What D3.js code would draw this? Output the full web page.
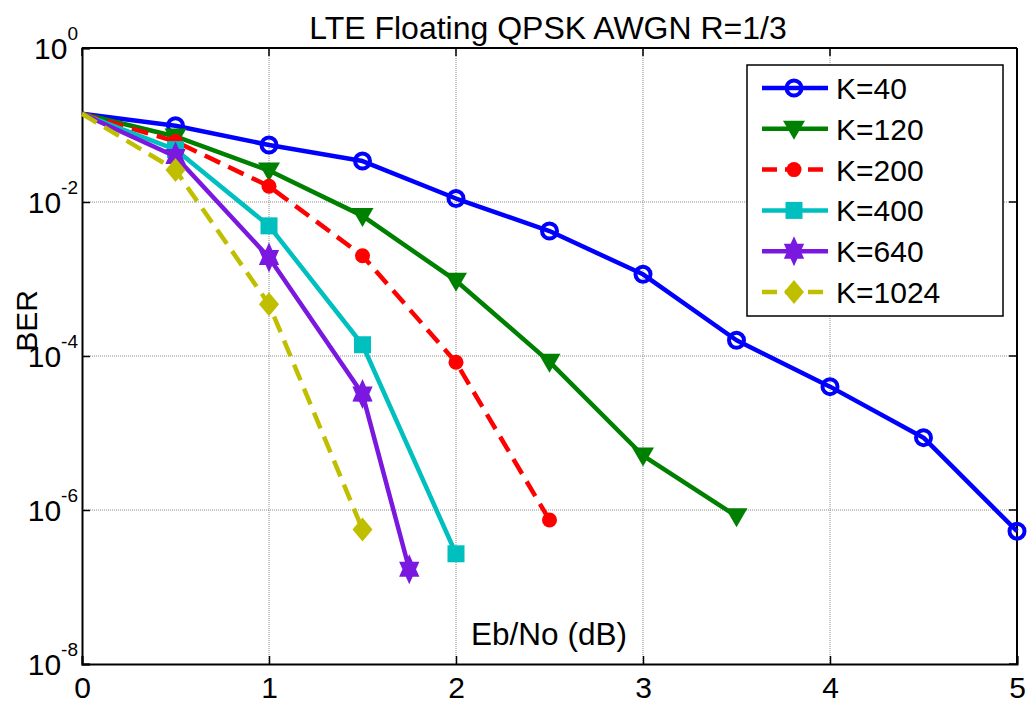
<!DOCTYPE html>
<html>
<head>
<meta charset="utf-8">
<script src="https://cdn.jsdelivr.net/npm/d3@7"></script>
<style>
  body { margin: 0; background: #fff; }
  svg { display: block; font-family: Arial, "Liberation Sans", sans-serif; }
</style>
</head>
<body>
<div id="chart"></div>
<script>
// BER curves, LTE turbo code, QPSK over AWGN
const ebno40 = [0, 0.5, 1, 1.5, 2, 2.5, 3, 3.5, 4, 4.5, 5];
const ber40 = [0.14, 0.098, 0.055, 0.034, 0.0111, 0.0042, 0.00115, 1.6e-4, 4.0e-5, 8.7e-6, 5.3e-7];
const ebno120 = [0, 0.5, 1, 1.5, 2, 2.5, 3, 3.5];
const ber120 = [0.14, 0.071, 0.0256, 0.0066, 9.5e-4, 8.4e-5, 5.1e-6, 8.3e-7];
const ebno200 = [0, 0.5, 1, 1.5, 2, 2.5];
const ber200 = [0.14, 0.061, 0.016, 2.0e-3, 8.3e-5, 7.4e-7];
const ebno400 = [0, 0.5, 1, 1.5, 2];
const ber400 = [0.14, 0.048, 4.9e-3, 1.4e-4, 2.7e-7];
const ebno640 = [0, 0.5, 1, 1.5, 1.75];
const ber640 = [0.14, 0.039, 1.9e-3, 3.2e-5, 1.7e-7];
const ebno1024 = [0, 0.5, 1, 1.5];
const ber1024 = [0.14, 0.026, 4.7e-4, 5.6e-7];

const legendLabels = ['K=40', 'K=120', 'K=200', 'K=400', 'K=640', 'K=1024'];
const xTicks = [0, 1, 2, 3, 4, 5];
const yTickExps = [0, -2, -4, -6, -8];

const series = [
  {x: ebno40, y: ber40, color: '#0000ff', dash: null, marker: 'circle'},
  {x: ebno120, y: ber120, color: '#008000', dash: null, marker: 'triangle'},
  {x: ebno200, y: ber200, color: '#ff0000', dash: '17,9', marker: 'dot'},
  {x: ebno400, y: ber400, color: '#00bfbf', dash: null, marker: 'square'},
  {x: ebno640, y: ber640, color: '#7a18e0', dash: null, marker: 'hexagram'},
  {x: ebno1024, y: ber1024, color: '#bfbf00', dash: '17,9', marker: 'diamond'}
];

const W = 1035, H = 704;
const margin = {top: 48, right: 18, bottom: 40, left: 82};

const svg = d3.select('#chart').append('svg')
  .attr('width', W).attr('height', H);

const x = d3.scaleLinear().domain([0, 5]).range([margin.left, W - margin.right]);
const y = d3.scaleLog().domain([1, 1e-8]).range([margin.top, H - margin.bottom]);

// grid
const grid = svg.append('g').attr('stroke', '#8a8a8a').attr('stroke-width', 1).attr('stroke-dasharray', '1,1');
grid.selectAll('.vg').data(xTicks.slice(1, -1)).enter().append('line')
  .attr('x1', d => x(d)).attr('x2', d => x(d))
  .attr('y1', y(1)).attr('y2', y(1e-8));
grid.selectAll('.hg').data(yTickExps.slice(1, -1)).enter().append('line')
  .attr('x1', x(0)).attr('x2', x(5))
  .attr('y1', d => y(Math.pow(10, d))).attr('y2', d => y(Math.pow(10, d)));

// axes
const xAxis = svg.append('g')
  .attr('transform', `translate(0,${y(1e-8)})`)
  .call(d3.axisBottom(x).tickValues(xTicks).tickSize(-8).tickPadding(12).tickFormat(d3.format('d')));
const yAxis = svg.append('g')
  .attr('transform', `translate(${x(0)},0)`)
  .call(d3.axisLeft(y).tickValues(yTickExps.map(e => Math.pow(10, e))).tickSize(-8).tickFormat(''));
[xAxis, yAxis].forEach(a => {
  a.select('.domain').attr('stroke', '#000').attr('stroke-width', 2);
  a.selectAll('.tick line').attr('stroke', '#000').attr('stroke-width', 1.5);
});
xAxis.selectAll('.tick text').attr('fill', '#000').attr('dy', null).attr('y', 34).style('font-size', '30px');

// box: top and right edges plus mirrored ticks
const box = svg.append('g').attr('stroke', '#000').attr('stroke-width', 2);
box.append('line').attr('x1', x(0)).attr('x2', x(5)).attr('y1', y(1)).attr('y2', y(1));
box.append('line').attr('x1', x(5)).attr('x2', x(5)).attr('y1', y(1)).attr('y2', y(1e-8));
box.selectAll('.rt').data(yTickExps).enter().append('line')
  .attr('stroke-width', 1.5)
  .attr('x1', x(5) - 8).attr('x2', x(5))
  .attr('y1', d => y(Math.pow(10, d))).attr('y2', d => y(Math.pow(10, d)));
box.selectAll('.tt').data(xTicks).enter().append('line')
  .attr('stroke-width', 1.5)
  .attr('x1', d => x(d)).attr('x2', d => x(d))
  .attr('y1', y(1)).attr('y2', y(1) + 8);

// y tick labels 10^k
const yl = svg.append('g');
yTickExps.forEach(e => {
  const t = yl.append('text')
    .attr('x', x(0) - 4)
    .attr('y', y(Math.pow(10, e)) + 11)
    .attr('text-anchor', 'end')
    .style('font-size', '30px');
  t.append('tspan').text('10');
  t.append('tspan').attr('dy', -19).style('font-size', '19px').text(e);
});

// title and labels
svg.append('text')
  .attr('x', 548).attr('y', 39)
  .attr('text-anchor', 'middle')
  .style('font-size', '32px')
  .text('LTE Floating QPSK AWGN R=1/3');
svg.append('text')
  .attr('x', 549).attr('y', 645)
  .attr('text-anchor', 'middle')
  .style('font-size', '31.5px')
  .text('Eb/No (dB)');
svg.append('text')
  .attr('transform', `translate(37,321) rotate(-90)`)
  .attr('text-anchor', 'middle')
  .style('font-size', '30px')
  .text('BER');

// markers
function hexagram(R) {
  const pts = [];
  for (let i = 0; i < 12; i++) {
    const a = -Math.PI / 2 + i * Math.PI / 6;
    const r = i % 2 === 0 ? R : R * 0.58;
    pts.push([r * Math.cos(a) * 0.78, r * Math.sin(a)]);
  }
  return 'M' + pts.map(p => p.join(',')).join('L') + 'Z';
}
function drawMarker(g, type, color) {
  if (type === 'circle') {
    g.append('circle').attr('r', 7.5).attr('fill', 'none').attr('stroke', color).attr('stroke-width', 4);
  } else if (type === 'triangle') {
    g.append('path').attr('d', 'M-11,-8L11,-8L0,11Z').attr('fill', color);
  } else if (type === 'dot') {
    g.append('circle').attr('r', 7.5).attr('fill', color);
  } else if (type === 'square') {
    g.append('rect').attr('x', -8.5).attr('y', -8.5).attr('width', 17).attr('height', 17).attr('fill', color);
  } else if (type === 'hexagram') {
    g.append('path').attr('d', hexagram(15)).attr('fill', color);
  } else if (type === 'diamond') {
    g.append('path').attr('d', 'M0,-12L10,0L0,12L-10,0Z').attr('fill', color);
  }
}

const line = d3.line().x(d => x(d[0])).y(d => y(d[1]));
const plot = svg.append('g');
series.forEach(s => {
  const pts = s.x.map((v, i) => [v, s.y[i]]);
  plot.append('path')
    .datum(pts)
    .attr('d', line)
    .attr('fill', 'none')
    .attr('stroke', s.color)
    .attr('stroke-width', 4.5)
    .attr('stroke-linejoin', 'round')
    .attr('stroke-dasharray', s.dash);
  pts.slice(1).forEach(p => {
    const g = plot.append('g').attr('transform', `translate(${x(p[0])},${y(p[1])})`);
    drawMarker(g, s.marker, s.color);
  });
});

// legend
const lg = svg.append('g').attr('transform', 'translate(747,65)');
lg.append('rect').attr('width', 256).attr('height', 251)
  .attr('fill', '#fff').attr('stroke', '#000').attr('stroke-width', 1.5);
series.forEach((s, i) => {
  const row = lg.append('g').attr('transform', `translate(0,${23 + i * 40.8})`);
  row.append('line').attr('x1', 15).attr('x2', 81).attr('y1', 0).attr('y2', 0)
    .attr('stroke', s.color).attr('stroke-width', 4.5)
    .attr('stroke-dasharray', s.dash ? '15,8' : null);
  drawMarker(row.append('g').attr('transform', 'translate(47,0)'), s.marker, s.color);
  row.append('text').attr('x', 89).attr('y', 11)
    .style('font-size', '30px')
    .text(legendLabels[i]);
});
</script>
</body>
</html>
